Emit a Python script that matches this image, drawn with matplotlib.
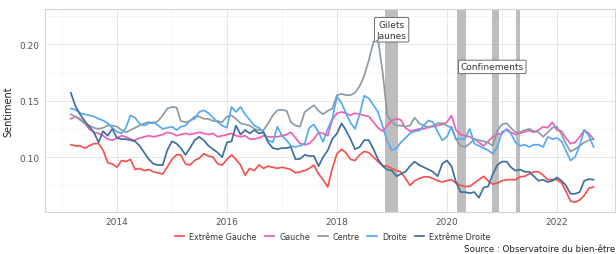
import numpy as np
import pandas as pd
import matplotlib
matplotlib.use("Agg")
import matplotlib.pyplot as plt
import matplotlib.dates as mdates

# monthly sentiment, March 2013 -> September 2022
dates = pd.date_range("2013-03-01", periods=115, freq="MS")

ext_gauche = [
    0.111, 0.110, 0.110, 0.108, 0.110, 0.112, 0.112, 0.106, 0.095, 0.094,
    0.091, 0.097, 0.096, 0.098, 0.089, 0.090, 0.088, 0.089, 0.087, 0.086,
    0.085, 0.091, 0.098, 0.102, 0.102, 0.094, 0.093, 0.097, 0.099, 0.103,
    0.101, 0.100, 0.094, 0.093, 0.098, 0.102, 0.098, 0.093, 0.084, 0.090,
    0.088, 0.093, 0.090, 0.092, 0.091, 0.090, 0.091, 0.090, 0.089, 0.086,
    0.087, 0.088, 0.090, 0.093, 0.085, 0.080, 0.0735, 0.090, 0.103, 0.107,
    0.104, 0.098, 0.097, 0.102, 0.105, 0.104, 0.100, 0.096, 0.0925, 0.092,
    0.090, 0.088, 0.087, 0.081, 0.075, 0.079, 0.081, 0.0825, 0.0825, 0.081,
    0.079, 0.078, 0.079, 0.080, 0.077, 0.075, 0.074, 0.074, 0.077, 0.080,
    0.083, 0.079, 0.076, 0.077, 0.079, 0.080, 0.080, 0.080, 0.0825, 0.083,
    0.085, 0.087, 0.087, 0.084, 0.080, 0.080, 0.080, 0.077, 0.070, 0.061,
    0.060, 0.062, 0.066, 0.0725, 0.0735]

gauche = [
    0.134, 0.136, 0.134, 0.130, 0.125, 0.122, 0.121, 0.119, 0.116, 0.115,
    0.117, 0.119, 0.118, 0.116, 0.115, 0.117, 0.118, 0.119, 0.118, 0.119,
    0.120, 0.122, 0.121, 0.119, 0.120, 0.121, 0.120, 0.121, 0.122, 0.121,
    0.120, 0.121, 0.118, 0.119, 0.120, 0.121, 0.119, 0.118, 0.119, 0.116,
    0.116, 0.117, 0.119, 0.118, 0.118, 0.118, 0.119, 0.120, 0.122, 0.117,
    0.112, 0.111, 0.112, 0.116, 0.122, 0.121, 0.119, 0.133, 0.139, 0.140,
    0.139, 0.137, 0.139, 0.138, 0.137, 0.136, 0.131, 0.126, 0.123, 0.128,
    0.1325, 0.134, 0.133, 0.126, 0.123, 0.124, 0.125, 0.125, 0.127, 0.127,
    0.128, 0.129, 0.131, 0.137, 0.124, 0.120, 0.119, 0.118, 0.116, 0.113,
    0.110, 0.114, 0.118, 0.120, 0.121, 0.125, 0.122, 0.120, 0.121, 0.1225,
    0.1235, 0.122, 0.124, 0.127, 0.126, 0.131, 0.124, 0.123, 0.117, 0.112,
    0.113, 0.118, 0.124, 0.121, 0.116]

centre = [
    0.138, 0.136, 0.133, 0.130, 0.128, 0.126, 0.125, 0.126, 0.128, 0.128,
    0.127, 0.124, 0.122, 0.124, 0.126, 0.128, 0.130, 0.131, 0.130, 0.132,
    0.137, 0.143, 0.1445, 0.144, 0.132, 0.131, 0.132, 0.136, 0.136, 0.134,
    0.134, 0.132, 0.132, 0.131, 0.136, 0.137, 0.134, 0.130, 0.129, 0.128,
    0.125, 0.124, 0.124, 0.130, 0.137, 0.1415, 0.142, 0.141, 0.131, 0.128,
    0.127, 0.140, 0.143, 0.146, 0.141, 0.138, 0.141, 0.143, 0.155, 0.156,
    0.155, 0.155, 0.157, 0.163, 0.172, 0.186, 0.2025, 0.204, 0.175, 0.137,
    0.131, 0.128, 0.128, 0.127, 0.128, 0.135, 0.130, 0.128, 0.126, 0.128,
    0.130, 0.130, 0.128, 0.126, 0.116, 0.110, 0.109, 0.112, 0.116, 0.115,
    0.114, 0.113, 0.110, 0.1235, 0.129, 0.130, 0.126, 0.122, 0.122, 0.124,
    0.125, 0.123, 0.122, 0.118, 0.122, 0.126, 0.127, 0.120, 0.112, 0.105,
    0.107, 0.110, 0.113, 0.115, 0.116]

droite = [
    0.143, 0.142, 0.139, 0.138, 0.137, 0.136, 0.134, 0.1325, 0.130, 0.126,
    0.1225, 0.121, 0.126, 0.137, 0.135, 0.1295, 0.128, 0.130, 0.131, 0.128,
    0.125, 0.126, 0.127, 0.124, 0.127, 0.128, 0.1325, 0.134, 0.140, 0.1415,
    0.139, 0.135, 0.131, 0.128, 0.126, 0.1445, 0.140, 0.1445, 0.138, 0.133,
    0.128, 0.126, 0.122, 0.115, 0.113, 0.127, 0.119, 0.115, 0.110, 0.109,
    0.110, 0.112, 0.126, 0.129, 0.122, 0.1135, 0.125, 0.134, 0.1535, 0.148,
    0.139, 0.1305, 0.125, 0.138, 0.1545, 0.152, 0.146, 0.140, 0.127, 0.114,
    0.106, 0.108, 0.113, 0.117, 0.121, 0.123, 0.1235, 0.128, 0.1325, 0.131,
    0.1225, 0.115, 0.118, 0.127, 0.116, 0.116, 0.1165, 0.125, 0.112, 0.110,
    0.108, 0.106, 0.103, 0.109, 0.1225, 0.124, 0.121, 0.113, 0.110, 0.111,
    0.109, 0.111, 0.111, 0.109, 0.118, 0.116, 0.117, 0.114, 0.106, 0.097,
    0.100, 0.110, 0.124, 0.119, 0.109]

ext_droite = [
    0.157, 0.145, 0.138, 0.132, 0.127, 0.122, 0.113, 0.123, 0.119, 0.125,
    0.117, 0.116, 0.116, 0.115, 0.114, 0.110, 0.104, 0.098, 0.094, 0.093,
    0.093, 0.106, 0.114, 0.112, 0.108, 0.102, 0.108, 0.115, 0.118, 0.115,
    0.110, 0.107, 0.104, 0.100, 0.113, 0.114, 0.128, 0.120, 0.124, 0.121,
    0.124, 0.121, 0.122, 0.113, 0.108, 0.107, 0.108, 0.108, 0.109, 0.098,
    0.0985, 0.102, 0.101, 0.101, 0.092, 0.100, 0.106, 0.116, 0.121, 0.130,
    0.124, 0.116, 0.107, 0.109, 0.115, 0.115, 0.107, 0.098, 0.092, 0.089,
    0.088, 0.083, 0.085, 0.087, 0.092, 0.096, 0.093, 0.091, 0.089, 0.087,
    0.083, 0.094, 0.097, 0.092, 0.078, 0.069, 0.069, 0.068, 0.069, 0.064,
    0.073, 0.074, 0.085, 0.093, 0.096, 0.096, 0.091, 0.088, 0.089, 0.087,
    0.087, 0.083, 0.079, 0.080, 0.078, 0.079, 0.082, 0.079, 0.075, 0.0675,
    0.0675, 0.069, 0.079, 0.0805, 0.080]

series = ["Extrême Gauche", "Gauche", "Centre", "Droite", "Extrême Droite"]
values = [ext_gauche, gauche, centre, droite, ext_droite]
colors = ["#f4534f", "#f25fb4", "#8d9ba5", "#55aaf2", "#3f6f9f"]

# shaded periods: gilets jaunes + three lockdowns
periods_start = ["2018-11-17", "2020-03-10", "2020-10-30", "2021-04-03"]
periods_end = ["2019-02-10", "2020-05-08", "2020-12-15", "2021-05-03"]
labels = ["Gilets\nJaunes", "Confinements"]
label_x = ["2018-12-30", "2020-10-28"]
label_y = [0.213, 0.180]

fig = plt.figure(figsize=(6.16, 2.55), dpi=100)
ax = fig.add_axes([0.073, 0.165, 0.925, 0.796])

for s, e in zip(periods_start, periods_end):
    ax.axvspan(pd.Timestamp(s), pd.Timestamp(e), color="#bdbdbd", lw=0, zorder=1)

for name, v, c in zip(series, values, colors):
    ax.plot(dates, v, color=c, lw=1.25, label=name, zorder=3)

for t, xs, ys in zip(labels, label_x, label_y):
    ax.text(pd.Timestamp(xs), ys, t, ha="center", va="center", fontsize=6.5,
            color="#333333", linespacing=1.3, zorder=5,
            bbox=dict(boxstyle="round,pad=0.25,rounding_size=0.15", fc="white",
                      ec="#555555", lw=0.6))

ax.set_xlim(pd.Timestamp("2012-09-10"), pd.Timestamp("2023-01-20"))
ax.set_ylim(0.0514, 0.2314)
ax.xaxis.set_major_locator(mdates.YearLocator(2))
ax.xaxis.set_minor_locator(mdates.YearLocator(1))
ax.xaxis.set_major_formatter(mdates.DateFormatter("%Y"))
ax.set_yticks([0.10, 0.15, 0.20])
ax.set_yticklabels(["0.10", "0.15", "0.20"])
ax.set_yticks([0.075, 0.125, 0.175, 0.225], minor=True)
ax.grid(which="major", color="#e6e6e6", lw=0.7, zorder=0)
ax.grid(which="minor", color="#f2f2f2", lw=0.5, zorder=0)
ax.set_axisbelow(True)
ax.tick_params(which="both", length=0, labelsize=6.5, labelcolor="#555555", pad=4)
for sp in ax.spines.values():
    sp.set_color("#d6d6d6")
    sp.set_linewidth(0.8)
ax.set_ylabel("Sentiment", fontsize=7, color="#222222", labelpad=4)

fig.legend(loc="center", bbox_to_anchor=(0.54, 0.07), ncol=5, frameon=False,
           fontsize=5.8, handlelength=1.2, handletextpad=0.6, columnspacing=1.0,
           labelcolor="#333333")
fig.text(0.998, 0.022, "Source : Observatoire du bien-être",
         fontsize=6.3, color="#222222", ha="right", va="center")

fig.savefig("out.png", dpi=100)
